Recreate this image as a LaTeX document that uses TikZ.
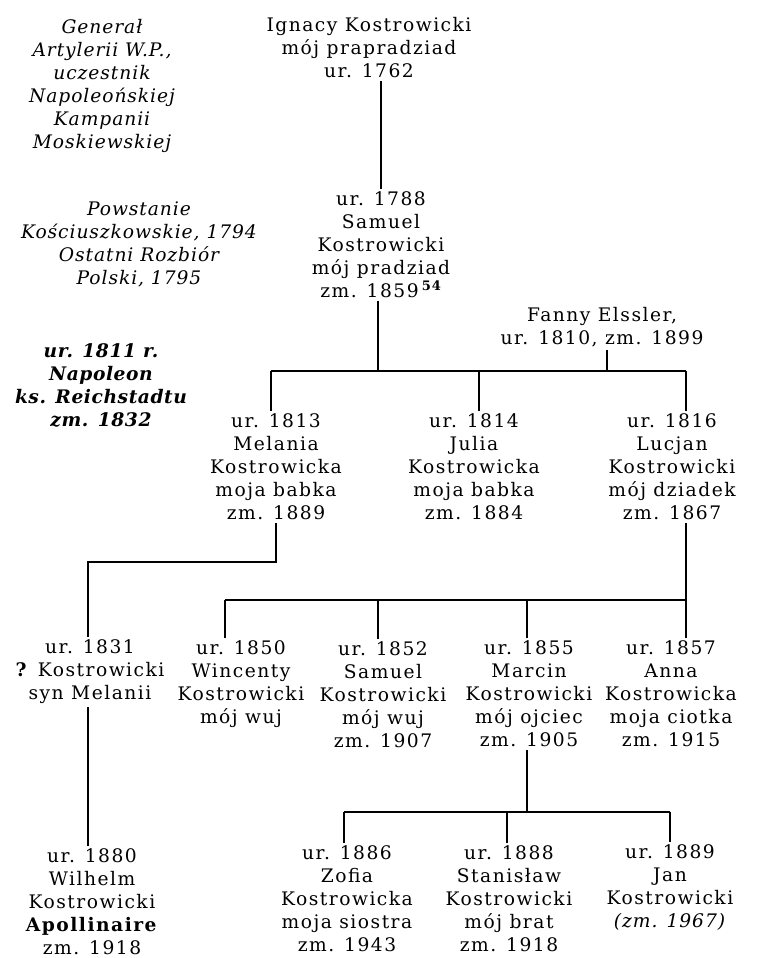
\documentclass[tikz,border=0pt]{standalone}
\usepackage{fontspec}
\setmainfont{DejaVu Serif}[LetterSpace=8, ItalicFeatures={LetterSpace=5}, BoldItalicFeatures={LetterSpace=3}]
\usepackage{tikz}

\newcommand{\treefont}{\fontsize{14}{17.25}\selectfont}

\tikzset{
  person/.style={align=center, inner sep=2pt, font=\treefont},
  note/.style={align=center, inner sep=2pt, font=\treefont\itshape},
  branch/.style={line width=0.9pt}
}

\begin{document}
\begin{tikzpicture}[x=0.75pt, y=-0.75pt]
\useasboundingbox (0, 0) rectangle (758, 958);

% side notes
\node [note] (general) at (102, 86) {Generał\\Artylerii W.P.,\\uczestnik\\Napoleońskiej\\Kampanii\\Moskiewskiej};
\node [note] (powstanie) at (139, 244) {Powstanie\\Kościuszkowskie, 1794\\Ostatni Rozbiór\\Polski, 1795};
\node [note, font=\treefont\bfseries\itshape] (napoleon) at (101, 385) {ur. 1811 r.\\Napoleon\\ks. Reichstadtu\\zm. 1832};

% generations
\node [person] (ignacy) at (369, 48) {Ignacy Kostrowicki\\mój prapradziad\\ur. 1762};
\node [person] (samuel) at (381, 245) {ur. 1788\\Samuel\\Kostrowicki\\mój pradziad\\zm. 1859\,\textsuperscript{\bfseries 54}};
\node [person] (fanny) at (602, 327) {Fanny Elssler,\\ur. 1810, zm. 1899};

\node [person] (melania) at (276, 467) {ur. 1813\\Melania\\Kostrowicka\\moja babka\\zm. 1889};
\node [person] (julia) at (474, 467) {ur. 1814\\Julia\\Kostrowicka\\moja babka\\zm. 1884};
\node [person] (lucjan) at (672, 467) {ur. 1816\\Lucjan\\Kostrowicki\\mój dziadek\\zm. 1867};

\node [person] (syn) at (90, 672) {ur. 1831\\\textbf{?} Kostrowicki\\syn Melanii};
\node [person] (wincenty) at (241, 684) {ur. 1850\\Wincenty\\Kostrowicki\\mój wuj};
\node [person] (samuelb) at (383, 695) {ur. 1852\\Samuel\\Kostrowicki\\mój wuj\\zm. 1907};
\node [person] (marcin) at (529, 694) {ur. 1855\\Marcin\\Kostrowicki\\mój ojciec\\zm. 1905};
\node [person] (anna) at (671, 694) {ur. 1857\\Anna\\Kostrowicka\\moja ciotka\\zm. 1915};

\node [person] (wilhelm) at (92, 902) {ur. 1880\\Wilhelm\\Kostrowicki\\\textbf{Apollinaire}\\zm. 1918};
\node [person] (zofia) at (347, 899) {ur. 1886\\Zofia\\Kostrowicka\\moja siostra\\zm. 1943};
\node [person] (stanislaw) at (509, 899) {ur. 1888\\Stanisław\\Kostrowicki\\mój brat\\zm. 1918};
\node [person] (jan) at (670, 888) {ur. 1889\\Jan\\Kostrowicki\\\textit{(zm. 1967)}};

% bar points
\coordinate (topS) at (378, 371);
\coordinate (topF) at (607, 371);
\coordinate (topL) at (271, 371);
\coordinate (topM) at (479, 371);
\coordinate (topR) at (686, 371);
\coordinate (melA) at (276, 562);
\coordinate (melB) at (88, 562);
\coordinate (midL) at (225, 600);
\coordinate (midA) at (378, 600);
\coordinate (midB) at (527, 600);
\coordinate (midR) at (686, 600);
\coordinate (lowM) at (527, 812);
\coordinate (lowL) at (344, 812);
\coordinate (lowA) at (507, 812);
\coordinate (lowR) at (670, 812);

\draw [branch] (ignacy.south -| samuel.north) -- (samuel.north);
\draw [branch] (samuel.south -| topS) -- (topS);
\draw [branch] (fanny.south -| topF) -- (topF);
\draw [branch] (topL) -- (topR);
\draw [branch] (topL) -- (melania.north -| topL);
\draw [branch] (topM) -- (julia.north -| topM);
\draw [branch] (topR) -- (lucjan.north -| topR);

\draw [branch] (melania.south -| melA) -- (melA) -- (melB) -- (syn.north -| melB);
\draw [branch] (syn.south -| melB) -- (wilhelm.north -| melB);

\draw [branch] (lucjan.south -| midR) -- (midR);
\draw [branch] (midL) -- (midR);
\draw [branch] (midL) -- (wincenty.north -| midL);
\draw [branch] (midA) -- (samuelb.north -| midA);
\draw [branch] (midB) -- (marcin.north -| midB);
\draw [branch] (midR) -- (anna.north -| midR);

\draw [branch] (marcin.south -| lowM) -- (lowM);
\draw [branch] (lowL) -- (lowR);
\draw [branch] (lowL) -- (zofia.north -| lowL);
\draw [branch] (lowA) -- (stanislaw.north -| lowA);
\draw [branch] (lowR) -- (jan.north -| lowR);
\end{tikzpicture}
\end{document}
